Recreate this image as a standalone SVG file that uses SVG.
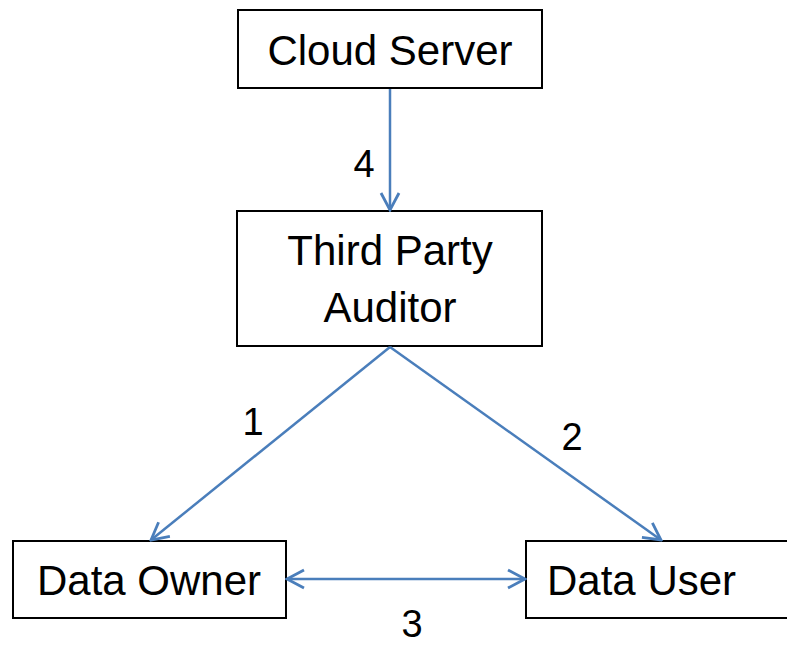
<svg xmlns="http://www.w3.org/2000/svg" width="787" height="646" viewBox="0 0 787 646">
<style>
.box{fill:#fff;stroke:#000;stroke-width:2}
.t{font-family:"Liberation Sans",Arial,sans-serif;font-size:42px;fill:#000}
.lbl{font-family:"Liberation Sans",Arial,sans-serif;font-size:38px;fill:#000}
.c{stroke:#4a7ebb;stroke-width:2.5;fill:none}
</style>
<defs>
<marker id="ah" viewBox="0 0 22 22" refX="20" refY="11" markerWidth="22" markerHeight="22" markerUnits="userSpaceOnUse" orient="auto-start-reverse">
<path d="M3,2 L20,11 L3,20" fill="none" stroke="#4a7ebb" stroke-width="2.8"/>
</marker>
</defs>
<rect width="787" height="646" fill="#fff"/>
<g id="cloud-server"><rect class="box" x="238" y="10" width="304" height="78"/><text class="t" x="390" y="65" text-anchor="middle">Cloud Server</text></g>
<g id="tpa"><rect class="box" x="237" y="211" width="305" height="135"/><text class="t" x="390" y="265" text-anchor="middle">Third Party</text><text class="t" x="390" y="322" text-anchor="middle">Auditor</text></g>
<g id="data-owner"><rect class="box" x="13" y="541" width="273" height="77"/><text class="t" x="149" y="595" text-anchor="middle">Data Owner</text></g>
<g id="data-user"><rect class="box" x="526" y="541" width="270" height="77"/><text class="t" x="547" y="595">Data User</text></g>
<g id="connectors">
<line class="c" x1="390" y1="89" x2="390" y2="210" marker-end="url(#ah)"/>
<line class="c" x1="390" y1="347" x2="151" y2="540" marker-end="url(#ah)"/>
<line class="c" x1="390" y1="347" x2="661" y2="540" marker-end="url(#ah)"/>
<line class="c" x1="287" y1="579" x2="525" y2="579" marker-start="url(#ah)" marker-end="url(#ah)"/>
<text class="lbl" x="364" y="177" text-anchor="middle">4</text>
<text class="lbl" x="253" y="435" text-anchor="middle">1</text>
<text class="lbl" x="572" y="450" text-anchor="middle">2</text>
<text class="lbl" x="412" y="637" text-anchor="middle">3</text>
</g>
</svg>
